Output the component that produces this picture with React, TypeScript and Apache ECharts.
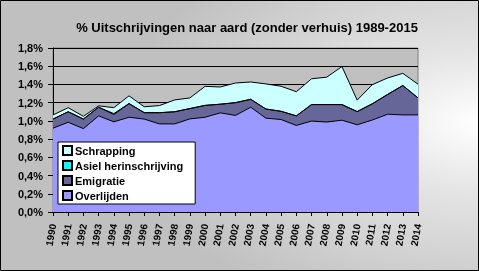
import React, { useEffect, useRef } from "react";
import * as echarts from "echarts";

const years = ["1990","1991","1992","1993","1994","1995","1996","1997","1998","1999","2000","2001","2002","2003","2004","2005","2006","2007","2008","2009","2010","2011","2012","2013","2014"];
const overlijden = [0.92,0.985,0.915,1.055,0.99,1.04,1.02,0.967,0.967,1.022,1.04,1.088,1.06,1.15,1.03,1.015,0.95,0.998,0.987,1.008,0.957,1.01,1.073,1.066,1.066];
const emigratie = [0.10,0.115,0.105,0.095,0.08,0.15,0.07,0.123,0.133,0.113,0.13,0.095,0.14,0.087,0.10,0.09,0.105,0.181,0.192,0.171,0.145,0.178,0.217,0.322,0.186];
const asiel = [0,0,0,0,0.01,0,0,0,0,0,0,0,0,0,0,0,0,0,0,0,0,0,0,0,0];
const schrapping = [0.045,0.045,0.03,0.015,0.065,0.085,0.065,0.078,0.13,0.117,0.209,0.189,0.216,0.19,0.276,0.275,0.265,0.283,0.301,0.417,0.126,0.21,0.181,0.134,0.151];
const yTicks = { min: 0, max: 1.8, interval: 0.2 };

const FONT = '"Liberation Sans", Arial, sans-serif';

export default function App() {
  const ref = useRef<HTMLDivElement>(null);
  useEffect(() => {
    const chart = echarts.init(ref.current!, null, { renderer: "svg" });
    const mk = (name: string, data: number[], color: string) => ({
      name,
      type: "line",
      stack: "total",
      data,
      symbol: "none",
      lineStyle: { color: "#000", width: 1 },
      areaStyle: { color, opacity: 1 },
      itemStyle: { color, borderColor: "#000", borderWidth: 1 },
    });
    chart.setOption({
      animation: false,
      backgroundColor: {
        type: "radial",
        x: 1,
        y: 0.45,
        r: 0.75,
        colorStops: [
          { offset: 0, color: "#FFFFFF" },
          { offset: 0.35, color: "#E4E4E4" },
          { offset: 1, color: "#C0C0C0" },
        ],
      },
      title: {
        text: "% Uitschrijvingen naar aard (zonder verhuis) 1989-2015",
        left: 242,
        top: 16,
        textAlign: "center",
        textStyle: { fontFamily: FONT, fontSize: 13, fontWeight: "bold", color: "#000" },
      },
      grid: {
        left: 53,
        right: 61,
        top: 48,
        bottom: 59,
        show: true,
        backgroundColor: "#C0C0C0",
        borderColor: "#808080",
        borderWidth: 1,
      },
      legend: {
        orient: "vertical",
        left: 58,
        top: 142,
        width: 140,
        data: ["Schrapping", "Asiel herinschrijving", "Emigratie", "Overlijden"],
        backgroundColor: "#FFFFFF",
        borderColor: "#000",
        borderWidth: 1,
        padding: [3, 12, 3, 4],
        itemGap: 4,
        itemWidth: 9,
        itemHeight: 9,
        icon: "rect",
        textStyle: { fontFamily: FONT, fontSize: 11, fontWeight: "bold", color: "#000", padding: [0, 0, 0, -2] },
      },
      xAxis: {
        type: "category",
        data: years,
        boundaryGap: false,
        axisLine: { lineStyle: { color: "#000" } },
        axisTick: { interval: 0, length: 4, lineStyle: { color: "#000" } },
        axisLabel: {
          interval: 0,
          rotate: 80,
          fontFamily: FONT,
          fontSize: 10,
          fontWeight: "bold",
          color: "#000",
          margin: 12,
        },
      },
      yAxis: {
        type: "value",
        min: yTicks.min,
        max: yTicks.max,
        interval: yTicks.interval,
        axisLine: { show: true, lineStyle: { color: "#000" } },
        axisTick: { show: true, length: 5, lineStyle: { color: "#000" } },
        splitLine: { show: true, lineStyle: { color: "#000", width: 1 } },
        axisLabel: {
          fontFamily: FONT,
          fontSize: 11,
          fontWeight: "bold",
          color: "#000",
          margin: 10,
          formatter: (v: number) => v.toFixed(1).replace(".", ",") + "%",
        },
      },
      series: [
        mk("Overlijden", overlijden, "#9999FF"),
        mk("Emigratie", emigratie, "#666699"),
        mk("Asiel herinschrijving", asiel, "#00FFFF"),
        mk("Schrapping", schrapping, "#CCFFFF"),
      ],
      graphic: [
        {
          type: "rect",
          shape: { x: 0.5, y: 0.5, width: 478, height: 270 },
          style: { fill: "none", stroke: "#000", lineWidth: 1 },
          silent: true,
        },
      ],
    });
    return () => chart.dispose();
  }, []);
  return <div ref={ref} style={{ position: "fixed", left: 0, top: 0, width: 479, height: 271 }} />;
}
